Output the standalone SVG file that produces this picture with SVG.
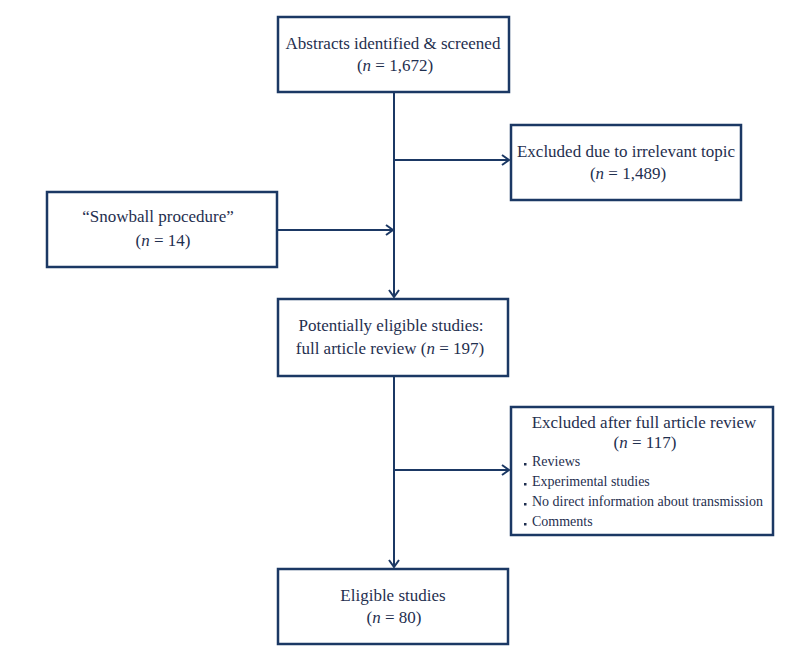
<svg xmlns="http://www.w3.org/2000/svg" width="804" height="648" viewBox="0 0 804 648">
<style>
.box{fill:#fff;stroke:#1b3864;stroke-width:2.5}
.ln{fill:none;stroke:#1b3864;stroke-width:2}
text{font-family:"Liberation Serif","DejaVu Serif",serif;font-size:17px;fill:#1f2f4f}
.c{text-anchor:middle}
.s{font-size:14px}
.b{fill:#1f2f4f}
</style>
<defs>
<marker id="ah" markerWidth="12" markerHeight="12" refX="10" refY="6" orient="auto" markerUnits="userSpaceOnUse">
<path d="M3,1 L10,6 L3,11" fill="none" stroke="#1b3864" stroke-width="2"/>
</marker>
</defs>
<g id="connectors">
<path class="ln" d="M394,92 V297" marker-end="url(#ah)"/>
<path class="ln" d="M394,160 H509" marker-end="url(#ah)"/>
<path class="ln" d="M277,230 H393" marker-end="url(#ah)"/>
<path class="ln" d="M394,376 V567" marker-end="url(#ah)"/>
<path class="ln" d="M394,470 H509" marker-end="url(#ah)"/>
</g>
<g id="abstracts">
<rect class="box" x="278" y="17" width="231" height="75"/>
<text class="c" x="393" y="49">Abstracts identified &amp; screened</text>
<text class="c" x="395" y="71">(<tspan font-style="italic">n</tspan> = 1,672)</text>
</g>
<g id="excluded-topic">
<rect class="box" x="511" y="125" width="230" height="75"/>
<text class="c" x="626" y="157">Excluded due to irrelevant topic</text>
<text class="c" x="628" y="179">(<tspan font-style="italic">n</tspan> = 1,489)</text>
</g>
<g id="snowball">
<rect class="box" x="47" y="192" width="230" height="75"/>
<text class="c" x="158" y="222">“Snowball procedure”</text>
<text class="c" x="163" y="246">(<tspan font-style="italic">n</tspan> = 14)</text>
</g>
<g id="potentially">
<rect class="box" x="278" y="299" width="230" height="77"/>
<text class="c" x="391" y="331">Potentially eligible studies:</text>
<text class="c" x="390" y="354">full article review (<tspan font-style="italic">n</tspan> = 197)</text>
</g>
<g id="excluded-full">
<rect class="box" x="511" y="407" width="262" height="128"/>
<text class="c" x="644" y="428">Excluded after full article review</text>
<text class="c" x="645" y="448">(<tspan font-style="italic">n</tspan> = 117)</text>
<rect class="b" x="524" y="463" width="2.5" height="2.5"/>
<text class="s" x="532" y="466">Reviews</text>
<rect class="b" x="524" y="483" width="2.5" height="2.5"/>
<text class="s" x="532" y="486">Experimental studies</text>
<rect class="b" x="524" y="503" width="2.5" height="2.5"/>
<text class="s" x="532" y="506">No direct information about transmission</text>
<rect class="b" x="524" y="523" width="2.5" height="2.5"/>
<text class="s" x="532" y="526">Comments</text>
</g>
<g id="eligible">
<rect class="box" x="278" y="569" width="230" height="75"/>
<text class="c" x="393" y="601">Eligible studies</text>
<text class="c" x="394" y="623">(<tspan font-style="italic">n</tspan> = 80)</text>
</g>
</svg>
